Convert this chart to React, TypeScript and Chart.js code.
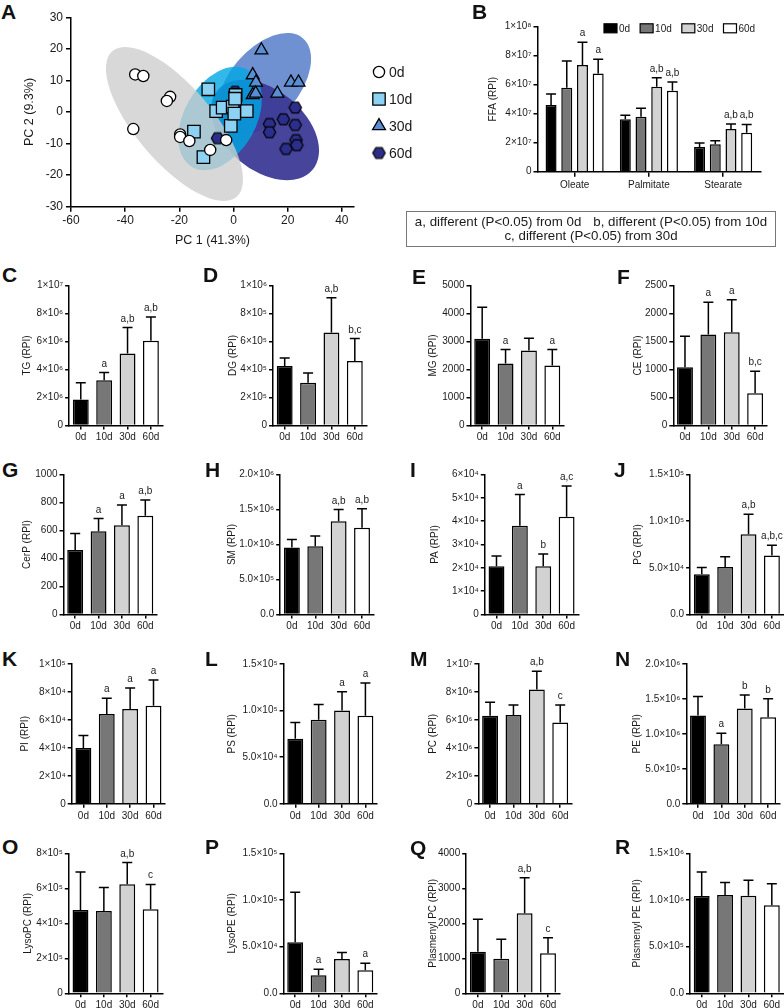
import React, { useEffect, useRef } from 'react';
import { Chart, registerables } from 'chart.js';

Chart.register(...registerables);

const FONT = '"Liberation Sans", Arial, Helvetica, sans-serif';
const INK = '#1a1a1a';
Chart.defaults.font.family = FONT;

const GROUPS = ['0d', '10d', '30d', '60d'];
const GROUP_FILLS = ['#000000', '#777777', '#d2d2d2', '#ffffff'];

// ---------- Panel A : PCA scores ----------
const PC1_0D = [-36.3, -33.3, -23.4, -24.6, -37.0, -19.7, -19.7, -16.3, -8.6, -2.7];
const PC2_0D = [11.9, 11.4, 4.8, 3.5, -5.4, -7.1, -7.9, -9.2, -12.0, -8.9];
const PC1_10D = [-9.3, -14.6, -11.1, -6.4, -4.0, -0.3, 0.8, 4.9, -1.0, 0.3, 0.6];
const PC2_10D = [7.2, -6.2, -14.3, 0.3, 1.4, 1.7, 5.4, 0.3, -4.4, -0.5, 4.2];
const PC1_30D = [10.3, 7.1, 8.3, 7.1, 8.2, 16.2, 21.2, 24.0];
const PC2_30D = [19.6, 11.7, 9.4, 5.4, 5.9, 5.9, 9.4, 9.4];
const PC1_60D = [22.8, 18.4, 13.3, 13.3, 22.8, 23.1, 23.4, 19.4, -5.9, 0.6];
const PC2_60D = [1.4, -2.3, -3.8, -6.4, -4.1, -8.9, -10.5, -11.7, -8.3, 6.4];
const PCA_X_TICKS = [-60, -40, -20, 0, 20, 40];
const PCA_Y_TICKS = [-30, -20, -10, 0, 10, 20, 30];
// confidence ellipses: major axis end points (PC1a, PC2a, PC1b, PC2b) and minor/major ratio
const ELLIPSE_0D = [-44.7, 19.3, 1.1, -26.9, 0.4];
const ELLIPSE_10D = [5.4, 13.3, -15.3, -17.4, 0.64];
const ELLIPSE_30D = [25.6, 23.4, -3.0, -5.7, 0.58];
const ELLIPSE_60D = [29.2, -18.3, -5.9, 6.9, 0.645];

// ---------- Panel B : FFA ----------
const FFA_CATS = ['Oleate', 'Palmitate', 'Stearate'];
const FFA_MEAN_0D = [4.6e7, 3.61e7, 1.7e7];
const FFA_MEAN_10D = [5.79e7, 3.79e7, 1.89e7];
const FFA_MEAN_30D = [7.36e7, 5.86e7, 2.94e7];
const FFA_MEAN_60D = [6.78e7, 5.59e7, 2.69e7];
const FFA_SD_0D = [0.76e7, 0.28e7, 0.28e7];
const FFA_SD_10D = [1.84e7, 0.58e7, 0.25e7];
const FFA_SD_30D = [1.56e7, 0.62e7, 0.35e7];
const FFA_SD_60D = [0.97e7, 0.59e7, 0.57e7];
const FFA_SIG_0D = ['', '', ''];
const FFA_SIG_10D = ['', '', ''];
const FFA_SIG_30D = ['a', 'a,b', 'a,b'];
const FFA_SIG_60D = ['a', 'a,b', 'a,b'];
const FFA_YTICKS = [0, 2e7, 4e7, 6e7, 8e7, 1e8];
const FFA_YLABELS = ['0', '2×10⁷', '4×10⁷', '6×10⁷', '8×10⁷', '1×10⁸'];

// ---------- Panels C-R (order 0d, 10d, 30d, 60d) ----------
const TG_MEAN = [1.86e6, 3.23e6, 5.14e6, 6.05e6];
const TG_SD = [1.2e6, 0.55e6, 1.86e6, 1.7e6];
const TG_SIG = ['', 'a', 'a,b', 'a,b'];
const TG_YTICKS = [0, 2e6, 4e6, 6e6, 8e6, 1e7];
const TG_YLABELS = ['0', '2×10⁶', '4×10⁶', '6×10⁶', '8×10⁶', '1×10⁷'];

const DG_MEAN = [4.25e5, 3.06e5, 6.64e5, 4.61e5];
const DG_SD = [0.58e5, 0.69e5, 2.49e5, 1.6e5];
const DG_SIG = ['', '', 'a,b', 'b,c'];
const DG_YTICKS = [0, 2e5, 4e5, 6e5, 8e5, 1e6];
const DG_YLABELS = ['0', '2×10⁵', '4×10⁵', '6×10⁵', '8×10⁵', '1×10⁶'];

const MG_MEAN = [3095, 2214, 2679, 2143];
const MG_SD = [1130, 500, 440, 571];
const MG_SIG = ['', 'a', '', 'a'];
const MG_YTICKS = [0, 1000, 2000, 3000, 4000, 5000];
const MG_YLABELS = ['0', '1000', '2000', '3000', '4000', '5000'];

const CE_MEAN = [1042, 1625, 1667, 577];
const CE_SD = [553, 577, 578, 393];
const CE_SIG = ['', 'a', 'a', 'b,c'];
const CE_YTICKS = [0, 500, 1000, 1500, 2000, 2500];
const CE_YLABELS = ['0', '500', '1000', '1500', '2000', '2500'];

const CERP_MEAN = [460, 595, 638, 705];
const CERP_SD = [119, 90, 145, 113];
const CERP_SIG = ['', 'a', 'a', 'a,b'];
const CERP_YTICKS = [0, 200, 400, 600, 800, 1000];
const CERP_YLABELS = ['0', '200', '400', '600', '800', '1000'];

const SM_MEAN = [9.57e5, 9.76e5, 1.333e6, 1.238e6];
const SM_SD = [1.13e5, 1.44e5, 1.67e5, 2.72e5];
const SM_SIG = ['', '', 'a,b', 'a,b'];
const SM_YTICKS = [0, 5e5, 1e6, 1.5e6, 2e6];
const SM_YLABELS = ['0.0', '5.0×10⁵', '1.0×10⁶', '1.5×10⁶', '2.0×10⁶'];

const PA_MEAN = [2.07e4, 3.8e4, 2.07e4, 4.19e4];
const PA_SD = [0.44e4, 1.34e4, 0.52e4, 1.32e4];
const PA_SIG = ['', 'a', 'b', 'a,c'];
const PA_YTICKS = [0, 1e4, 2e4, 3e4, 4e4, 5e4, 6e4];
const PA_YLABELS = ['0', '1×10⁴', '2×10⁴', '3×10⁴', '4×10⁴', '5×10⁴', '6×10⁴'];

const PG_MEAN = [4.32e4, 5.1e4, 8.6e4, 6.32e4];
const PG_SD = [0.72e4, 1.08e4, 2.15e4, 1.11e4];
const PG_SIG = ['', '', 'a,b', 'a,b,c'];
const PG_YTICKS = [0, 5e4, 1e5, 1.5e5];
const PG_YLABELS = ['0.0', '5.0×10⁴', '1.0×10⁵', '1.5×10⁵'];

const PI_MEAN = [3.99e4, 6.41e4, 6.77e4, 7.01e4];
const PI_SD = [0.88e4, 1.13e4, 1.51e4, 1.84e4];
const PI_SIG = ['', 'a', 'a', 'a'];
const PI_YTICKS = [0, 2e4, 4e4, 6e4, 8e4, 1e5];
const PI_YLABELS = ['0', '2×10⁴', '4×10⁴', '6×10⁴', '8×10⁴', '1×10⁵'];

const PS_MEAN = [6.96e4, 9.0e4, 1.0e5, 9.43e4];
const PS_SD = [1.75e4, 1.64e4, 2.0e4, 3.5e4];
const PS_SIG = ['', '', 'a', 'a'];
const PS_YTICKS = [0, 5e4, 1e5, 1.5e5];
const PS_YLABELS = ['0.0', '5.0×10⁴', '1.0×10⁵', '1.5×10⁵'];

const PC_MEAN = [6.29e6, 6.34e6, 8.16e6, 5.81e6];
const PC_SD = [0.96e6, 0.72e6, 1.31e6, 1.25e6];
const PC_SIG = ['', '', 'a,b', 'c'];
const PC_YTICKS = [0, 2e6, 4e6, 6e6, 8e6, 1e7];
const PC_YLABELS = ['0', '2×10⁶', '4×10⁶', '6×10⁶', '8×10⁶', '1×10⁷'];

const PE_MEAN = [1.26e6, 8.49e5, 1.362e6, 1.237e6];
const PE_SD = [2.73e5, 1.58e5, 1.91e5, 2.63e5];
const PE_SIG = ['', 'a', 'b', 'b'];
const PE_YTICKS = [0, 5e5, 1e6, 1.5e6, 2e6];
const PE_YLABELS = ['0.0', '5.0×10⁵', '1.0×10⁶', '1.5×10⁶', '2.0×10⁶'];

const LPC_MEAN = [4.76e5, 4.7e5, 6.23e5, 4.8e5];
const LPC_SD = [2.17e5, 1.35e5, 1.24e5, 1.42e5];
const LPC_SIG = ['', '', 'a,b', 'c'];
const LPC_YTICKS = [0, 2e5, 4e5, 6e5, 8e5];
const LPC_YLABELS = ['0', '2×10⁵', '4×10⁵', '6×10⁵', '8×10⁵'];

const LPE_MEAN = [5.46e4, 1.93e4, 3.68e4, 2.46e4];
const LPE_SD = [5.36e4, 0.64e4, 0.68e4, 0.75e4];
const LPE_SIG = ['', 'a', '', 'a'];
const LPE_YTICKS = [0, 5e4, 1e5, 1.5e5];
const LPE_YLABELS = ['0.0', '5.0×10⁴', '1.0×10⁵', '1.5×10⁵'];

const PPC_MEAN = [1190, 990, 2286, 1143];
const PPC_SD = [924, 553, 1014, 447];
const PPC_SIG = ['', '', 'a,b', 'c'];
const PPC_YTICKS = [0, 1000, 2000, 3000, 4000];
const PPC_YLABELS = ['0', '1000', '2000', '3000', '4000'];

const PPE_MEAN = [1.043e6, 1.054e6, 1.046e6, 9.43e5];
const PPE_SD = [2.57e5, 1.32e5, 1.65e5, 2.32e5];
const PPE_SIG = ['', '', '', ''];
const PPE_YTICKS = [0, 5e5, 1e6, 1.5e6];
const PPE_YLABELS = ['0.0', '5.0×10⁵', '1.0×10⁶', '1.5×10⁶'];

// ---------- helpers ----------
function makeErrPlugin(sds: number[][], letters: string[][], cap: number) {
  return {
    id: 'errbars',
    afterDatasetsDraw(chart: any) {
      const ctx = chart.ctx;
      const ys = chart.scales.y;
      ctx.save();
      chart.data.datasets.forEach((ds: any, di: number) => {
        const meta = chart.getDatasetMeta(di);
        meta.data.forEach((bar: any, i: number) => {
          const { x, y } = bar.getProps(['x', 'y'], true);
          const ye = ys.getPixelForValue(ds.data[i] + sds[di][i]);
          ctx.strokeStyle = '#000';
          ctx.lineWidth = 1.5;
          ctx.beginPath();
          ctx.moveTo(x, y);
          ctx.lineTo(x, ye);
          ctx.moveTo(x - cap / 2, ye);
          ctx.lineTo(x + cap / 2, ye);
          ctx.stroke();
          const t = letters[di][i];
          if (t) {
            ctx.fillStyle = INK;
            ctx.font = `10px ${FONT}`;
            ctx.textAlign = 'center';
            ctx.textBaseline = 'alphabetic';
            ctx.fillText(t, x, ye - 6);
          }
        });
      });
      ctx.restore();
    },
  };
}

function axisStyle(tickLength: number) {
  return {
    grid: { display: true, drawOnChartArea: false, drawTicks: true, tickLength, color: '#000', lineWidth: 1.5 },
    border: { display: true, color: '#000', width: 1.5 },
  };
}

type BarProps = {
  title: string;
  mean: number[];
  sd: number[];
  letters: string[];
  ticks: number[];
  labels: string[];
  axisX: number;
  titleX: number;
  top: number;
};

function BarPanel(p: BarProps) {
  const ref = useRef<HTMLCanvasElement>(null);
  const W = 93.5;
  const H = 140;
  const left = Math.round(p.titleX - 6);
  const ctop = Math.round(p.top - 24);
  const pt = p.top - ctop;
  const yw = p.axisX - left;
  const cw = Math.min(Math.ceil(yw + W + 5), 784 - left);
  const ch = Math.ceil(pt + H + 22);
  const xh = ch - pt - H;
  const pr = cw - yw - W;
  useEffect(() => {
    const chart = new Chart(ref.current as HTMLCanvasElement, {
      type: 'bar',
      data: {
        labels: GROUPS,
        datasets: [
          {
            data: p.mean,
            backgroundColor: GROUP_FILLS,
            borderColor: '#000',
            borderWidth: 1.5,
            barPercentage: 0.68,
            categoryPercentage: 1,
          },
        ],
      },
      options: {
        responsive: false,
        animation: false,
        devicePixelRatio: 1,
        layout: { padding: { top: pt, right: pr, left: 0, bottom: 0 } },
        plugins: { legend: { display: false }, tooltip: { enabled: false } },
        scales: {
          x: {
            ...axisStyle(4),
            grid: { ...axisStyle(4).grid, offset: false },
            ticks: { font: { family: FONT, size: 10 }, color: INK, padding: 2, maxRotation: 0, autoSkip: false },
            afterFit: (s: any) => {
              s.height = xh;
            },
          },
          y: {
            ...axisStyle(4),
            min: 0,
            max: p.ticks[p.ticks.length - 1],
            afterBuildTicks: (s: any) => {
              s.ticks = p.ticks.map((v) => ({ value: v }));
            },
            ticks: {
              font: { family: FONT, size: 10 },
              color: INK,
              padding: 2,
              callback: (_v: any, i: number) => p.labels[i],
            },
            title: {
              display: true,
              text: p.title,
              font: { family: FONT, size: 10 },
              color: INK,
              padding: { top: 0, bottom: 0 },
            },
            afterFit: (s: any) => {
              s.width = yw;
            },
          },
        },
      } as any,
      plugins: [makeErrPlugin([p.sd], [p.letters], 10)],
    });
    return () => chart.destroy();
  }, []);
  return (
    <canvas
      ref={ref}
      width={cw}
      height={ch}
      style={{ position: 'absolute', left, top: ctop, width: cw, height: ch }}
    />
  );
}

function FfaPanel() {
  const ref = useRef<HTMLCanvasElement>(null);
  const axisX = 537.5;
  const plotTop = 26.7;
  const H = 145;
  const W = 222.75;
  const left = 487;
  const ctop = 8;
  const cw = 280;
  const ch = 188;
  const pt = plotTop - ctop;
  const yw = axisX - left;
  const pr = cw - yw - W;
  const xh = ch - pt - H;
  useEffect(() => {
    const means = [FFA_MEAN_0D, FFA_MEAN_10D, FFA_MEAN_30D, FFA_MEAN_60D];
    const sds = [FFA_SD_0D, FFA_SD_10D, FFA_SD_30D, FFA_SD_60D];
    const sigs = [FFA_SIG_0D, FFA_SIG_10D, FFA_SIG_30D, FFA_SIG_60D];
    const legendPlugin = {
      id: 'ffaLegend',
      afterDraw(chart: any) {
        const ctx = chart.ctx;
        const ca = chart.chartArea;
        let x = ca.left + 66.5;
        const y = ca.top + 1.6;
        ctx.save();
        ctx.font = `10px ${FONT}`;
        ctx.textBaseline = 'middle';
        ctx.textAlign = 'left';
        chart.data.datasets.forEach((ds: any) => {
          ctx.fillStyle = ds.backgroundColor;
          ctx.fillRect(x, y - 4.5, 13, 9);
          ctx.strokeStyle = '#000';
          ctx.lineWidth = 1.2;
          ctx.strokeRect(x, y - 4.5, 13, 9);
          ctx.fillStyle = INK;
          ctx.fillText(ds.label, x + 15, y + 0.5);
          x += 15 + ctx.measureText(ds.label).width + 10;
        });
        ctx.restore();
      },
    };
    const chart = new Chart(ref.current as HTMLCanvasElement, {
      type: 'bar',
      data: {
        labels: FFA_CATS,
        datasets: GROUPS.map((g, gi) => ({
          label: g,
          data: means[gi],
          backgroundColor: GROUP_FILLS[gi],
          borderColor: '#000',
          borderWidth: 1.5,
          barPercentage: 0.7,
          categoryPercentage: 0.846,
        })),
      },
      options: {
        responsive: false,
        animation: false,
        devicePixelRatio: 1,
        layout: { padding: { top: pt, right: pr, left: 0, bottom: 0 } },
        plugins: { legend: { display: false }, tooltip: { enabled: false } },
        scales: {
          x: {
            ...axisStyle(5),
            grid: { ...axisStyle(5).grid, offset: false },
            ticks: { font: { family: FONT, size: 10 }, color: INK, padding: 3, maxRotation: 0, autoSkip: false },
            afterFit: (s: any) => {
              s.height = xh;
            },
          },
          y: {
            ...axisStyle(4),
            min: 0,
            max: FFA_YTICKS[FFA_YTICKS.length - 1],
            afterBuildTicks: (s: any) => {
              s.ticks = FFA_YTICKS.map((v) => ({ value: v }));
            },
            ticks: {
              font: { family: FONT, size: 10 },
              color: INK,
              padding: 2,
              callback: (_v: any, i: number) => FFA_YLABELS[i],
            },
            title: {
              display: true,
              text: 'FFA (RPI)',
              font: { family: FONT, size: 10 },
              color: INK,
              padding: { top: 0, bottom: 0 },
            },
            afterFit: (s: any) => {
              s.width = yw;
            },
          },
        },
      } as any,
      plugins: [makeErrPlugin(sds, sigs, 10), legendPlugin],
    });
    return () => chart.destroy();
  }, []);
  return (
    <canvas
      ref={ref}
      width={cw}
      height={ch}
      style={{ position: 'absolute', left, top: ctop, width: cw, height: ch }}
    />
  );
}

const PCA_FILLS = ['#ffffff', '#8dd2f3', '#5a8ed4', '#2c2e8c'];
const ELLIPSE_FILLS = [
  'rgba(205,205,205,0.78)',
  'rgba(0,168,228,0.8)',
  'rgba(100,136,205,0.92)',
  'rgba(60,58,150,0.95)',
];

function makeHex(r: number, fill: string) {
  const c = document.createElement('canvas');
  const s = Math.ceil(r * 2 + 4);
  c.width = s;
  c.height = s;
  const g = c.getContext('2d') as CanvasRenderingContext2D;
  g.beginPath();
  for (let k = 0; k < 6; k++) {
    const a = (Math.PI / 3) * k;
    const px = s / 2 + r * Math.cos(a);
    const py = s / 2 + r * Math.sin(a);
    if (k === 0) g.moveTo(px, py);
    else g.lineTo(px, py);
  }
  g.closePath();
  g.fillStyle = fill;
  g.fill();
  g.strokeStyle = '#000';
  g.lineWidth = 1.2;
  g.stroke();
  return c;
}

function PcaPanel() {
  const ref = useRef<HTMLCanvasElement>(null);
  const left = 22;
  const ctop = 5;
  const cw = 398;
  const ch = 243;
  const pt = 12.3;
  const yw = 49;
  const pr = 66;
  const xh = ch - pt - 189.4;
  useEffect(() => {
    const hex = makeHex(6.2, PCA_FILLS[3]);
    const pts = (xs: number[], ys: number[]) => xs.map((x, i) => ({ x, y: ys[i] }));
    // drawing order: 30d, 60d, 10d, 0d
    const ellipses = [
      { e: ELLIPSE_30D, c: ELLIPSE_FILLS[2] },
      { e: ELLIPSE_60D, c: ELLIPSE_FILLS[3] },
      { e: ELLIPSE_10D, c: ELLIPSE_FILLS[1] },
      { e: ELLIPSE_0D, c: ELLIPSE_FILLS[0] },
    ];
    const ellipsePlugin = {
      id: 'ellipses',
      beforeDatasetsDraw(chart: any) {
        const ctx = chart.ctx;
        const xs = chart.scales.x;
        const ys = chart.scales.y;
        ctx.save();
        ellipses.forEach(({ e, c }) => {
          const x1 = xs.getPixelForValue(e[0]);
          const y1 = ys.getPixelForValue(e[1]);
          const x2 = xs.getPixelForValue(e[2]);
          const y2 = ys.getPixelForValue(e[3]);
          const a = Math.hypot(x2 - x1, y2 - y1) / 2;
          ctx.fillStyle = c;
          ctx.beginPath();
          ctx.ellipse((x1 + x2) / 2, (y1 + y2) / 2, a, a * e[4], Math.atan2(y2 - y1, x2 - x1), 0, Math.PI * 2);
          ctx.fill();
        });
        ctx.restore();
      },
    };
    const legendPlugin = {
      id: 'pcaLegend',
      afterDraw(chart: any) {
        const ctx = chart.ctx;
        const ca = chart.chartArea;
        const x = ca.right + 25;
        ctx.save();
        ctx.font = `14px ${FONT}`;
        ctx.textBaseline = 'middle';
        ctx.textAlign = 'left';
        GROUPS.forEach((g, i) => {
          const y = ca.top + 54.7 + 27 * i;
          ctx.fillStyle = PCA_FILLS[i];
          ctx.strokeStyle = '#000';
          ctx.lineWidth = 1.3;
          ctx.beginPath();
          if (i === 0) {
            ctx.arc(x, y, 5.6, 0, Math.PI * 2);
            ctx.fill();
            ctx.stroke();
          } else if (i === 1) {
            ctx.rect(x - 6.2, y - 6.2, 12.4, 12.4);
            ctx.fill();
            ctx.stroke();
          } else if (i === 2) {
            const r = 7.4;
            ctx.moveTo(x, y - r);
            ctx.lineTo(x + r * 0.866, y + r / 2);
            ctx.lineTo(x - r * 0.866, y + r / 2);
            ctx.closePath();
            ctx.fill();
            ctx.stroke();
          } else {
            ctx.drawImage(hex, x - hex.width / 2, y - hex.height / 2);
          }
          ctx.fillStyle = INK;
          ctx.fillText(g, x + 10, y + 1);
        });
        ctx.restore();
      },
    };
    const chart = new Chart(ref.current as HTMLCanvasElement, {
      type: 'scatter',
      data: {
        datasets: [
          {
            label: GROUPS[0],
            data: pts(PC1_0D, PC2_0D),
            pointStyle: 'circle',
            pointRadius: 5.6,
            backgroundColor: PCA_FILLS[0],
            borderColor: '#000',
            borderWidth: 1.3,
          },
          {
            label: GROUPS[1],
            data: pts(PC1_10D, PC2_10D),
            pointStyle: 'rect',
            pointRadius: 8.8,
            backgroundColor: PCA_FILLS[1],
            borderColor: '#000',
            borderWidth: 1.3,
          },
          {
            label: GROUPS[2],
            data: pts(PC1_30D, PC2_30D),
            pointStyle: 'triangle',
            pointRadius: 7.4,
            backgroundColor: PCA_FILLS[2],
            borderColor: '#000',
            borderWidth: 1.3,
          },
          {
            label: GROUPS[3],
            data: pts(PC1_60D, PC2_60D),
            pointStyle: hex,
            pointRadius: 6.2,
            backgroundColor: PCA_FILLS[3],
            borderColor: '#000',
            borderWidth: 1.2,
          },
        ],
      },
      options: {
        responsive: false,
        animation: false,
        devicePixelRatio: 1,
        clip: false,
        layout: { padding: { top: pt, right: pr, left: 0, bottom: 0 } },
        plugins: { legend: { display: false }, tooltip: { enabled: false } },
        scales: {
          x: {
            type: 'linear',
            ...axisStyle(5),
            min: -60,
            max: 44.5,
            afterBuildTicks: (s: any) => {
              s.ticks = PCA_X_TICKS.map((v) => ({ value: v }));
            },
            ticks: { font: { family: FONT, size: 12 }, color: INK, padding: 2, callback: (v: any) => String(v) },
            title: {
              display: true,
              text: 'PC 1 (41.3%)',
              font: { family: FONT, size: 12.5 },
              color: INK,
              padding: { top: 0, bottom: 0 },
            },
            afterFit: (s: any) => {
              s.height = xh;
            },
          },
          y: {
            type: 'linear',
            ...axisStyle(5),
            min: -30,
            max: 30,
            afterBuildTicks: (s: any) => {
              s.ticks = PCA_Y_TICKS.map((v) => ({ value: v }));
            },
            ticks: { font: { family: FONT, size: 12 }, color: INK, padding: 3, callback: (v: any) => String(v) },
            title: {
              display: true,
              text: 'PC 2 (9.3%)',
              font: { family: FONT, size: 12.5 },
              color: INK,
              padding: { top: 0, bottom: 0 },
            },
            afterFit: (s: any) => {
              s.width = yw;
            },
          },
        },
      } as any,
      plugins: [ellipsePlugin, legendPlugin],
    });
    return () => chart.destroy();
  }, []);
  return (
    <canvas
      ref={ref}
      width={cw}
      height={ch}
      style={{ position: 'absolute', left, top: ctop, width: cw, height: ch }}
    />
  );
}

function PanelLetter({ t, x, y }: { t: string; x: number; y: number }) {
  return (
    <div
      style={{
        position: 'absolute',
        left: x,
        top: y - 2.8,
        fontFamily: FONT,
        fontWeight: 700,
        fontSize: 21,
        lineHeight: '21px',
        color: '#111',
      }}
    >
      {t}
    </div>
  );
}

function NoteBox() {
  return (
    <div
      style={{
        position: 'absolute',
        left: 406,
        top: 211,
        width: 370,
        height: 36,
        boxSizing: 'border-box',
        border: '1px solid #777',
        fontFamily: FONT,
        fontSize: 13.3,
        lineHeight: '14px',
        color: INK,
        textAlign: 'center',
        paddingTop: 3,
        whiteSpace: 'nowrap',
      }}
    >
      <div>
        <span style={{ marginRight: 12 }}>a, different (P&lt;0.05) from 0d</span>
        <span>b, different (P&lt;0.05) from 10d</span>
      </div>
      <div>c, different (P&lt;0.05) from 30d</div>
    </div>
  );
}

const ROW1 = 285.5;
const ROW2 = 474.5;
const ROW3 = 663.8;
const ROW4 = 853.3;

export default function App() {
  return (
    <div
      style={{
        position: 'absolute',
        left: 0,
        top: 0,
        width: 784,
        height: 1008,
        overflow: 'hidden',
        background: '#fff',
      }}
    >
      <PcaPanel />
      <FfaPanel />
      <NoteBox />

      <BarPanel title="TG (RPI)" mean={TG_MEAN} sd={TG_SD} letters={TG_SIG} ticks={TG_YTICKS} labels={TG_YLABELS} axisX={69.1} titleX={27} top={ROW1} />
      <BarPanel title="DG (RPI)" mean={DG_MEAN} sd={DG_SD} letters={DG_SIG} ticks={DG_YTICKS} labels={DG_YLABELS} axisX={273} titleX={233} top={ROW1} />
      <BarPanel title="MG (RPI)" mean={MG_MEAN} sd={MG_SD} letters={MG_SIG} ticks={MG_YTICKS} labels={MG_YLABELS} axisX={470.5} titleX={433} top={ROW1} />
      <BarPanel title="CE (RPI)" mean={CE_MEAN} sd={CE_SD} letters={CE_SIG} ticks={CE_YTICKS} labels={CE_YLABELS} axisX={673.3} titleX={638} top={ROW1} />

      <BarPanel title="CerP (RPI)" mean={CERP_MEAN} sd={CERP_SD} letters={CERP_SIG} ticks={CERP_YTICKS} labels={CERP_YLABELS} axisX={63.5} titleX={27} top={ROW2} />
      <BarPanel title="SM (RPI)" mean={SM_MEAN} sd={SM_SD} letters={SM_SIG} ticks={SM_YTICKS} labels={SM_YLABELS} axisX={280.2} titleX={232} top={ROW2} />
      <BarPanel title="PA (RPI)" mean={PA_MEAN} sd={PA_SD} letters={PA_SIG} ticks={PA_YTICKS} labels={PA_YLABELS} axisX={484.8} titleX={435} top={ROW2} />
      <BarPanel title="PG (RPI)" mean={PG_MEAN} sd={PG_SD} letters={PG_SIG} ticks={PG_YTICKS} labels={PG_YLABELS} axisX={690.1} titleX={638} top={ROW2} />

      <BarPanel title="PI (RPI)" mean={PI_MEAN} sd={PI_SD} letters={PI_SIG} ticks={PI_YTICKS} labels={PI_YLABELS} axisX={71.7} titleX={25} top={ROW3} />
      <BarPanel title="PS (RPI)" mean={PS_MEAN} sd={PS_SD} letters={PS_SIG} ticks={PS_YTICKS} labels={PS_YLABELS} axisX={283.6} titleX={232} top={ROW3} />
      <BarPanel title="PC (RPI)" mean={PC_MEAN} sd={PC_SD} letters={PC_SIG} ticks={PC_YTICKS} labels={PC_YLABELS} axisX={478.4} titleX={433} top={ROW3} />
      <BarPanel title="PE (RPI)" mean={PE_MEAN} sd={PE_SD} letters={PE_SIG} ticks={PE_YTICKS} labels={PE_YLABELS} axisX={686.3} titleX={637} top={ROW3} />

      <BarPanel title="LysoPC (RPI)" mean={LPC_MEAN} sd={LPC_SD} letters={LPC_SIG} ticks={LPC_YTICKS} labels={LPC_YLABELS} axisX={68.8} titleX={28} top={ROW4} />
      <BarPanel title="LysoPE (RPI)" mean={LPE_MEAN} sd={LPE_SD} letters={LPE_SIG} ticks={LPE_YTICKS} labels={LPE_YLABELS} axisX={283.5} titleX={232} top={ROW4} />
      <BarPanel title="Plasmenyl PC (RPI)" mean={PPC_MEAN} sd={PPC_SD} letters={PPC_SIG} ticks={PPC_YTICKS} labels={PPC_YLABELS} axisX={466.2} titleX={433} top={ROW4} />
      <BarPanel title="Plasmenyl PE (RPI)" mean={PPE_MEAN} sd={PPE_SD} letters={PPE_SIG} ticks={PPE_YTICKS} labels={PPE_YLABELS} axisX={690} titleX={637} top={ROW4} />

      <PanelLetter t="A" x={1} y={4} />
      <PanelLetter t="B" x={472} y={4} />
      <PanelLetter t="C" x={2} y={267} />
      <PanelLetter t="D" x={203} y={267} />
      <PanelLetter t="E" x={412} y={269} />
      <PanelLetter t="F" x={617} y={269} />
      <PanelLetter t="G" x={2} y={462} />
      <PanelLetter t="H" x={205} y={462} />
      <PanelLetter t="I" x={410} y={462} />
      <PanelLetter t="J" x={614} y={462} />
      <PanelLetter t="K" x={2} y={651} />
      <PanelLetter t="L" x={205} y={651} />
      <PanelLetter t="M" x={410} y={651} />
      <PanelLetter t="N" x={615} y={651} />
      <PanelLetter t="O" x={2} y={839} />
      <PanelLetter t="P" x={205} y={839} />
      <PanelLetter t="Q" x={410} y={840} />
      <PanelLetter t="R" x={615} y={839} />
    </div>
  );
}
